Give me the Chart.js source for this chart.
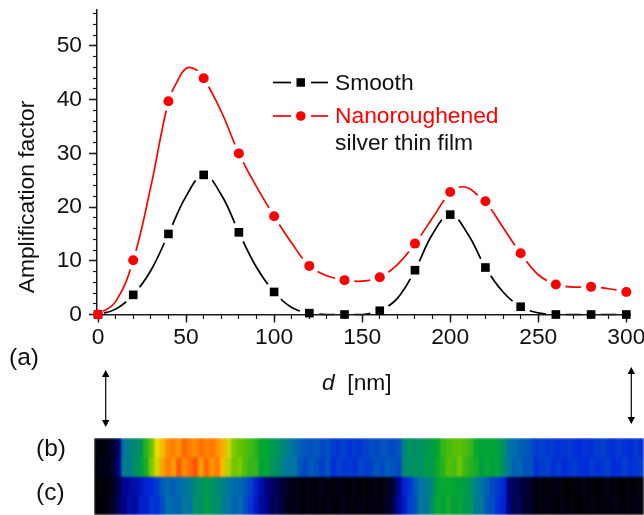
<!DOCTYPE html>
<html>
<head>
<meta charset="utf-8">
<script src="https://cdn.jsdelivr.net/npm/chart.js@4"></script>
<style>
  html, body { margin: 0; background: #fff; }
  #page { position: relative; width: 644px; height: 515px; overflow: hidden; font: 22.8px "Liberation Sans", Arial, sans-serif; color: #111; }
  #chart { position: absolute; left: 0; top: 0; }
  #stripWrap { position: absolute; left: 94px; top: 438px; width: 550px; height: 77px; overflow: hidden; }
  #strips { filter: blur(0.8px); }
  #overlay { position: absolute; left: 0; top: 0; }
  .lbl { position: absolute; line-height: 26px; white-space: pre; }
  .panel { font-size: 24.5px; }
  #ytitle { left: 26px; top: 197px; transform: translate(-50%, -50%) rotate(-90deg); }
</style>
</head>
<body>
<div id="page">
  <canvas id="chart" width="644" height="365"></canvas>
  <div id="stripWrap"><canvas id="strips" width="550" height="77"></canvas></div>
  <svg id="overlay" width="644" height="515">
    <line x1="273" y1="82.5" x2="291" y2="82.5" stroke="#000" stroke-width="1.7"/>
    <line x1="311" y1="82.5" x2="328" y2="82.5" stroke="#000" stroke-width="1.7"/>
    <rect x="296.5" y="78.2" width="8.5" height="8.5" fill="#000"/>
    <line x1="273" y1="116" x2="291" y2="116" stroke="#f00" stroke-width="1.7"/>
    <line x1="311" y1="116" x2="328" y2="116" stroke="#f00" stroke-width="1.7"/>
    <circle cx="300.8" cy="116" r="4.8" fill="#f00"/>
    <line x1="105.7" y1="375" x2="105.7" y2="422" stroke="#000" stroke-width="1.2"/>
    <path d="M105.7 370 L102 377 L109.4 377 Z M105.7 427 L102 420 L109.4 420 Z" fill="#000"/>
    <line x1="631.3" y1="372" x2="631.3" y2="419" stroke="#000" stroke-width="1.2"/>
    <path d="M631.3 367 L627.6 374 L635 374 Z M631.3 424 L627.6 417 L635 417 Z" fill="#000"/>
  </svg>
  <div class="lbl" id="ytitle">Amplification factor</div>
  <div class="lbl" style="left:335px;top:69px">Smooth</div>
  <div class="lbl" style="left:335px;top:102px;color:#f00">Nanoroughened</div>
  <div class="lbl" style="left:335px;top:129px">silver thin film</div>
  <div class="lbl" style="left:322px;top:369px"><i>d</i>  [nm]</div>
  <div class="lbl panel" style="left:9px;top:344px">(a)</div>
  <div class="lbl panel" style="left:36px;top:435px">(b)</div>
  <div class="lbl panel" style="left:36px;top:479px">(c)</div>
</div>
<script>
const depths = [0, 20, 40, 60, 80, 100, 120, 140, 160, 180, 200, 220, 240, 260, 280, 300];
const smoothValues = [0, 3.66, 15, 26, 15.3, 4.2, 0.25, 0, 0.7, 8.25, 18.6, 8.75, 1.45, 0, 0, 0];
const roughValues = [0, 10.1, 39.7, 44, 30, 18.3, 9.05, 6.4, 6.95, 13.2, 22.8, 21.1, 11.4, 5.6, 5.15, 4.2];

const smoothCurveX = [0, 10, 20, 30, 40, 50, 60, 70, 80, 90, 100, 110, 120, 130, 140, 150, 160, 170, 180, 190, 200, 210, 220, 230, 240, 250, 260, 270, 280, 290, 300];
const smoothCurve = [0, 1, 3.66, 8.2, 15, 22, 26, 22.3, 15.3, 8.8, 4.2, 1.3, 0.25, 0, 0, 0, 0.7, 3, 8.25, 15, 18.6, 15, 8.75, 4.2, 1.45, 0.3, 0, 0, 0, 0, 0];
const roughCurveX = [0, 10, 20, 30, 40, 45, 50, 55, 60, 70, 80, 90, 100, 110, 120, 130, 140, 150, 160, 170, 180, 190, 200, 205, 210, 215, 220, 230, 240, 250, 260, 270, 280, 290, 300];
const roughCurve = [0, 2.4, 10.1, 23.8, 39.7, 43.4, 45.8, 45.7, 44, 37.8, 30, 23.8, 18.3, 13.3, 9.05, 7.2, 6.4, 6.2, 6.95, 9.3, 13.2, 18, 22.8, 23.7, 23.6, 22.4, 21.1, 16.2, 11.4, 7.4, 5.6, 5.1, 5.15, 4.8, 4.2];

// intensity of the two film images, one value per 5.5 px column, 0 = black, 1 = red
const stripB1 = [.02, .01, .03, .04, .12, .42, .46, .48, .5, .6, .68, .78, .82,
  .88, .9, .87, .93, .9, .88, .92, .89, .91, .87, .84, .76, .7, .68, .66, .64, .6,
  .56, .55, .52, .5, .47, .44, .41, .39,
  .37, .36, .38, .35, .36, .33, .32, .34, .31, .33, .32, .34, .36, .35, .37, .36, .35, .37,
  .47, .5, .49, .5, .51, .53, .55, .62, .64, .66, .67, .65, .62,
  .56, .55, .54, .55, .53, .5, .42, .41, .39, .38, .36,
  .33, .34, .32, .33, .31, .32, .33, .31, .3, .32, .31, .33, .34, .32, .31, .33, .32, .3, .33, .31];
const stripB2 = [.01, .03, .02, .05, .15, .45, .44, .5, .52, .58, .7, .76, .85,
  .9, .86, .95, .88, .92, .96, .86, .93, .87, .9, .82, .74, .69, .7, .65, .62, .62,
  .54, .56, .5, .49, .45, .42, .43, .37,
  .35, .38, .36, .33, .37, .31, .34, .32, .33, .31, .35, .33, .34, .37, .35, .38, .37, .35,
  .49, .48, .51, .49, .53, .52, .57, .6, .66, .64, .69, .63, .6,
  .58, .53, .56, .53, .55, .48, .44, .39, .4, .36, .37,
  .31, .33, .34, .31, .33, .3, .32, .33, .31, .3, .33, .31, .32, .34, .3, .31, .34, .31, .32, .33];
const stripC1 = [0, .01, .01, .03, .08, .16, .18, .2, .24, .28, .3, .33,
  .38, .4, .38, .41, .42, .44, .48, .5, .52, .5, .48, .46, .42, .41, .4, .38, .34, .27, .2, .14, .1, .08, .06,
  .03, .02, .01, .02, .01, .01, .02, .01, .01, .02, .01, .01, .02, .01, .01, .01, .02, .01, .03, .06, .16,
  .28, .32, .38, .42, .44, .47, .54, .56, .56, .55, .54, .53, .5, .45, .42, .39, .35, .33, .3,
  .12, .1, .08, .06, .04,
  .01, .02, .01, .01, .02, .01, 0, .01, .01, .02, .01, 0, .01, .02, .01, .01, 0, .01, .01, .01];
const stripC2 = [.01, 0, .02, .04, .1, .14, .2, .18, .26, .26, .32, .31,
  .36, .41, .4, .39, .44, .42, .5, .48, .54, .49, .5, .44, .43, .39, .41, .36, .32, .25, .18, .16, .08, .1, .05,
  .02, .03, .01, .01, .02, .01, .01, .02, .01, .01, .03, .01, .01, .02, .01, .02, .01, .02, .04, .08, .18,
  .26, .34, .36, .44, .42, .49, .56, .54, .58, .53, .56, .51, .52, .43, .44, .37, .36, .31, .28,
  .14, .08, .1, .04, .05,
  .01, .01, .02, .01, .01, .02, .01, .01, 0, .01, .02, .01, .01, .01, .02, .01, .01, .01, .02, .01];

const COLOR_STOPS = [
  [0, 0, 0, 0], [.15, 0, 0, 140], [.3, 0, 40, 220], [.42, 0, 115, 165], [.55, 0, 165, 50],
  [.68, 100, 195, 0], [.78, 235, 220, 0], [.88, 255, 140, 0], [1, 255, 50, 0]
];

const FONT = { family: '"Liberation Sans", Arial, sans-serif', size: 22.8 };
const AXIS_COLOR = '#1a1a1a';
const X_MIN = -0.57, X_MAX = 302.1, Y_MIN = 0, Y_MAX = 56.7;

function zip(xs, ys) {
  return xs.map((x, i) => ({ x, y: ys[i] }));
}

function curve(xs, ys, color) {
  return { data: zip(xs, ys), borderColor: color, borderWidth: 1.7, pointRadius: 0, tension: 0.4, clip: false };
}

// white disc under each marker, gives the gap in the fitted line
function halo(ys) {
  return {
    data: zip(depths, ys), showLine: false, clip: false, pointBorderWidth: 0,
    pointRadius: depths.map(d => (d === 0 ? 6 : 10)), pointBackgroundColor: '#fff'
  };
}

function markers(ys, color, style, radius) {
  return {
    data: zip(depths, ys), showLine: false, clip: false, isMarker: true, pointBorderWidth: 0,
    pointStyle: style, pointRadius: radius, pointBackgroundColor: color
  };
}

// markers go over the axes, as in the figure
const markersOnTop = {
  id: 'markersOnTop',
  beforeDatasetDraw(chart, args) {
    if (chart.data.datasets[args.index].isMarker) return false;
  },
  afterDraw(chart) {
    chart.data.datasets.forEach((ds, i) => {
      if (ds.isMarker) chart.getDatasetMeta(i).controller.draw();
    });
  }
};

new Chart(document.getElementById('chart'), {
  type: 'line',
  data: {
    // chart.js paints the first dataset last, so halos come before the curves
    datasets: [
      halo(smoothValues),
      halo(roughValues),
      curve(smoothCurveX, smoothCurve, '#000'),
      curve(roughCurveX, roughCurve, '#f00'),
      markers(smoothValues, '#000', 'rect', 6.1),
      markers(roughValues, '#f00', 'circle', 5)
    ]
  },
  options: {
    responsive: false,
    animation: false,
    events: [],
    layout: { padding: { top: 10, right: 14, left: 0, bottom: 0 } },
    plugins: { legend: { display: false }, tooltip: { enabled: false } },
    scales: {
      x: {
        type: 'linear', min: X_MIN, max: X_MAX,
        afterFit(s) { s.height = 50.5; s.paddingLeft = 0; s.paddingRight = 0; },
        border: { color: AXIS_COLOR, width: 1.5, z: 1 },
        grid: { drawOnChartArea: false, tickLength: 8, tickColor: AXIS_COLOR, tickWidth: 1.5, z: 1 },
        ticks: { stepSize: 50, includeBounds: false, autoSkip: false, maxRotation: 0, color: '#111', font: FONT, padding: 2 }
      },
      y: {
        type: 'linear', min: Y_MIN, max: Y_MAX,
        afterFit(s) { s.width = 97; s.paddingTop = 0; s.paddingBottom = 0; },
        border: { color: AXIS_COLOR, width: 1.5, z: 1 },
        grid: { drawOnChartArea: false, tickLength: 8, tickColor: AXIS_COLOR, tickWidth: 1.5, z: 1 },
        ticks: { stepSize: 10, includeBounds: false, autoSkip: false, color: '#111', font: FONT, padding: 7 }
      },
      // shorter minor ticks, laid over the main axes
      xMinor: {
        axis: 'x', type: 'linear', position: { y: 0 }, min: X_MIN, max: X_MAX,
        border: { display: false },
        grid: { drawOnChartArea: false, tickLength: 4, tickColor: AXIS_COLOR, tickWidth: 1.2, z: 1 },
        ticks: { display: false, stepSize: 10, includeBounds: false, autoSkip: false }
      },
      yMinor: {
        axis: 'y', type: 'linear', position: { x: X_MIN }, min: Y_MIN, max: Y_MAX,
        border: { display: false },
        grid: { drawOnChartArea: false, tickLength: 4, tickColor: AXIS_COLOR, tickWidth: 1.2, z: 1 },
        ticks: { display: false, stepSize: 2, includeBounds: false, autoSkip: false }
      }
    }
  },
  plugins: [markersOnTop]
});

function stripColor(v) {
  let i = 1;
  while (i < COLOR_STOPS.length - 1 && COLOR_STOPS[i][0] < v) i++;
  const a = COLOR_STOPS[i - 1], b = COLOR_STOPS[i];
  const t = Math.min(1, (v - a[0]) / (b[0] - a[0]));
  return `rgb(${[1, 2, 3].map(k => Math.round(a[k] + (b[k] - a[k]) * t)).join(',')})`;
}

function stripRow(values, y0) {
  return {
    data: values.map(() => [y0, y0 + 1]), backgroundColor: values.map(stripColor),
    grouped: false, barPercentage: 1, categoryPercentage: 1
  };
}

// film images: one floating bar per column in each row
new Chart(document.getElementById('strips'), {
  type: 'bar',
  data: {
    labels: stripB1.map((_, i) => i),
    datasets: [stripRow(stripB1, 3), stripRow(stripB2, 2), stripRow(stripC1, 1), stripRow(stripC2, 0)]
  },
  options: {
    responsive: false,
    animation: false,
    events: [],
    plugins: { legend: { display: false }, tooltip: { enabled: false } },
    scales: {
      x: { display: false },
      y: { display: false, min: 0, max: 4 }
    }
  }
});
</script>
</body>
</html>
